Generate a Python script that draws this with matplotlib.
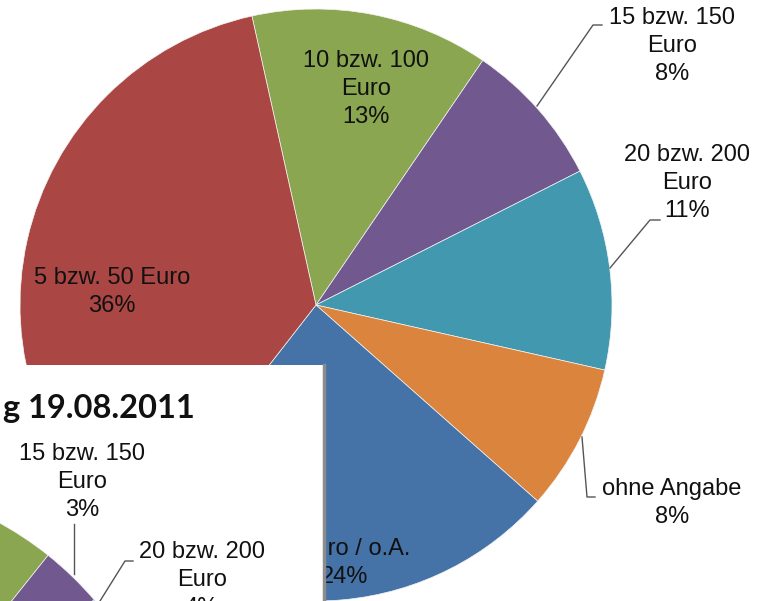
import matplotlib
matplotlib.use("Agg")
import matplotlib.pyplot as plt
from matplotlib.lines import Line2D

W, H = 762, 601

# ---- data (main chart) ----
labels_main = ["10 bzw. 100\nEuro", "15 bzw. 150\nEuro", "20 bzw. 200\nEuro",
               "ohne Angabe", "0 Euro / o.A.", "5 bzw. 50 Euro"]
values_main = [13, 8, 11, 8, 24, 36]
colors = ["#8BA650", "#71588F", "#4198AF", "#DB843D", "#4572A7", "#AA4643"]

# ---- data (inset chart, partially visible) ----
labels_inset = ["10 bzw. 100\nEuro", "15 bzw. 150\nEuro", "20 bzw. 200\nEuro",
                "ohne Angabe", "0 Euro / o.A.", "5 bzw. 50 Euro"]
values_inset = [12, 3, 4, 9, 30, 42]
inset_title = "g 19.08.2011"

FONT = "Liberation Sans"
FS = 17
LS = 1.33

def fy(y):
    return H - y

fig = plt.figure(figsize=(W / 100, H / 100), dpi=100)
fig.patch.set_facecolor("white")

ax = fig.add_axes([0, 0, 1, 1])
ax.pie(values_main, colors=colors, startangle=102.5, counterclock=False,
       center=(316, fy(305)), radius=296,
       wedgeprops=dict(edgecolor="#f4f4f4", linewidth=0.5))
ax.set_xlim(0, W)
ax.set_ylim(0, H)
ax.set_aspect("equal")
ax.axis("off")

def lab(a, x, y, s, **kw):
    a.text(x, fy(y), s, ha="center", va="center", fontsize=FS, family=FONT,
           color="#111111", linespacing=LS, **kw)

pct = [f"{v}%" for v in values_main]
lab(ax, 366, 89, f"{labels_main[0]}\n{pct[0]}")
lab(ax, 672, 46, f"{labels_main[1]}\n{pct[1]}")
lab(ax, 687, 183, f"{labels_main[2]}\n{pct[2]}")
lab(ax, 672, 503, f"{labels_main[3]}\n{pct[3]}")
lab(ax, 345, 563, f"{labels_main[4]}\n{pct[4]}")
lab(ax, 112, 292, f"{labels_main[5]}\n{pct[5]}")

def leader(a, xs, ys):
    a.add_line(Line2D(xs, [fy(v) for v in ys], color="#555555", linewidth=1.0))

leader(ax, [537, 593, 602], [106, 25, 25])
leader(ax, [610, 650, 660], [268, 220, 220])
leader(ax, [582, 587, 595], [437, 497, 497])

# ---- inset (overlay box) ----
box_w, box_top = 324, 365
iax = fig.add_axes([0, 0, box_w / W, (H - box_top) / H])
iax.set_facecolor("white")
iax.pie(values_inset, colors=colors, startangle=94.6, counterclock=False,
        center=(-164, fy(821)), radius=340, frame=True,
        wedgeprops=dict(edgecolor="#f4f4f4", linewidth=0.5))
iax.set_xlim(0, box_w)
iax.set_ylim(0, H - box_top)
iax.set_aspect("equal")
iax.set_xticks([])
iax.set_yticks([])
for side in ["left", "top", "bottom"]:
    iax.spines[side].set_visible(False)
iax.spines["right"].set_color("#8C8C8C")
iax.spines["right"].set_linewidth(2.5)

def ily(y):
    return H - y

ipct = [f"{v}%" for v in values_inset]
iax.text(3, ily(418), inset_title, ha="left", va="baseline", fontsize=23.5,
         family="Lato", fontweight="bold", color="#111111")
iax.text(82, ily(482), f"{labels_inset[1]}\n{ipct[1]}", ha="center", va="center",
         fontsize=FS, family=FONT, color="#111111", linespacing=LS)
iax.text(202, ily(580), f"{labels_inset[2]}\n{ipct[2]}", ha="center", va="center",
         fontsize=FS, family=FONT, color="#111111", linespacing=LS, clip_on=True)
iax.add_line(Line2D([74, 74], [ily(524), ily(574)], color="#555555", linewidth=1.0))
iax.add_line(Line2D([85, 125, 133], [ily(625), ily(561), ily(561)],
                    color="#555555", linewidth=1.0))

fig.savefig("out.png", dpi=100, facecolor="white")
